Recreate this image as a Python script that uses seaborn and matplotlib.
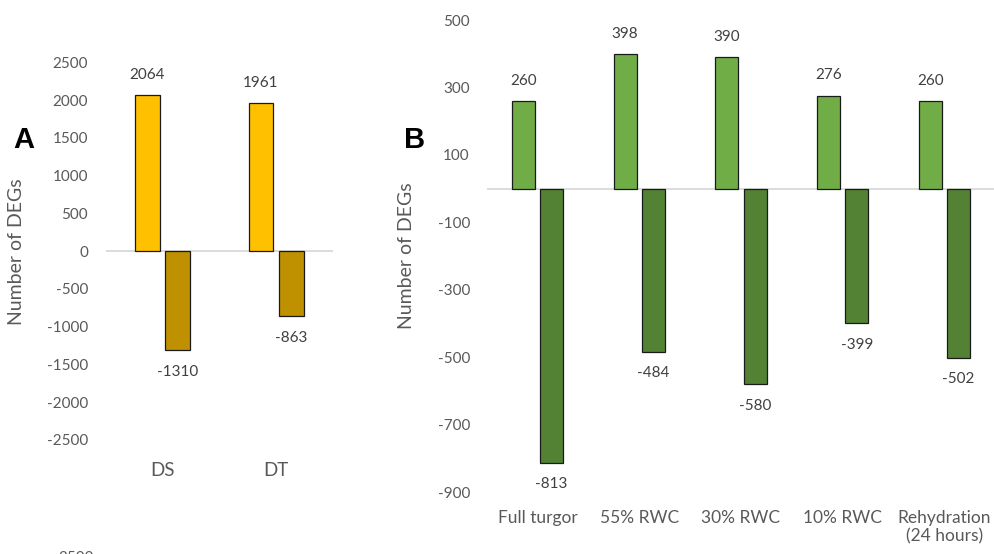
import numpy as np
import pandas as pd
import seaborn as sns
import matplotlib.pyplot as plt

# panel A: drought sensitive / tolerant
groups_a = ["DS", "DT"]
up_a = [2064, 1961]
down_a = [-1310, -863]
yticks_a = [2500, 2000, 1500, 1000, 500, 0, -500, -1000, -1500, -2000, -2500]

# panel B: dehydration / rehydration stages
stages_b = ["Full turgor", "55% RWC", "30% RWC", "10% RWC", "Rehydration\n(24 hours)"]
up_b = [260, 398, 390, 276, 260]
down_b = [-813, -484, -580, -399, -502]
yticks_b = [500, 300, 100, -100, -300, -500, -700, -900]

colors_a = ["#FFC000", "#BF9000"]
colors_b = ["#70AD47", "#548235"]

TICK_GREY = "#595959"
LABEL_GREY = "#404040"


def long_form(cats, up, down):
    return pd.DataFrame({
        "group": list(cats) * 2,
        "DEGs": list(up) + list(down),
        "direction": ["up"] * len(cats) + ["down"] * len(cats),
    })


def deg_panel(ax, df, colors, yticks, width, gap, xtick_size, xpad, ypad):
    sns.barplot(
        data=df, x="group", y="DEGs", hue="direction", palette=colors,
        width=width, gap=gap, edgecolor="#1a1a1a", linewidth=0.9,
        saturation=1, errorbar=None, legend=False, ax=ax, zorder=3,
    )
    ax.axhline(0, color="#D9D9D9", lw=1.3, zorder=2)

    for cont in ax.containers:
        for p in cont.patches:
            h = p.get_height()
            x = p.get_x() + p.get_width() / 2
            off = 14.5 if h >= 0 else -15.5
            ax.annotate(f"{h:.0f}", (x, h), xytext=(0, off), textcoords="offset points",
                        ha="center", va="center", fontsize=11, color=LABEL_GREY)

    ax.set_ylim(min(yticks), max(yticks))
    ax.set_yticks(yticks)
    ax.set_xlabel("")
    ax.set_ylabel("Number of DEGs", fontsize=14, color=TICK_GREY)
    ax.tick_params(axis="y", length=0, pad=ypad, labelsize=11, labelcolor=TICK_GREY)
    ax.tick_params(axis="x", length=0, pad=xpad, labelsize=xtick_size, labelcolor=TICK_GREY)
    for s in ax.spines.values():
        s.set_visible(False)
    ax.grid(False)


sns.set_theme(style="white")
plt.rcParams["font.family"] = ["Lato", "DejaVu Sans"]
plt.rcParams["axes.unicode_minus"] = False

fig = plt.figure(figsize=(9.94, 5.54), dpi=100)

ax_a = fig.add_axes([0.1066, 0.2058, 0.2284, 0.6814])
deg_panel(ax_a, long_form(groups_a, up_a, down_a), colors_a, yticks_a,
          width=0.536, gap=0.18, xtick_size=13.5, xpad=16, ypad=13)
ax_a.yaxis.set_label_coords(-0.357, 0.5)

ax_b = fig.add_axes([0.4895, 0.1116, 0.5119, 0.8522])
deg_panel(ax_b, long_form(stages_b, up_b, down_b), colors_b, yticks_b,
          width=0.552, gap=0.18, xtick_size=12.5, xpad=13, ypad=12)
ax_b.yaxis.set_label_coords(-0.141, 0.5)
for lbl in ax_b.get_xticklabels():
    lbl.set_linespacing(1.15)

fig.text(24 / 994, 1 - 140 / 554, "A", fontsize=21, fontweight="bold",
         family="Liberation Sans", ha="center", va="center", color="black")
fig.text(415 / 994, 1 - 140 / 554, "B", fontsize=21, fontweight="bold",
         family="Liberation Sans", ha="center", va="center", color="black")

# tick label of a cropped panel peeking in at the bottom edge
fig.text(58 / 994, 1 - 551 / 554, "2500", fontsize=11, color=TICK_GREY, ha="left", va="top")

fig.savefig("out.png", dpi=100)
